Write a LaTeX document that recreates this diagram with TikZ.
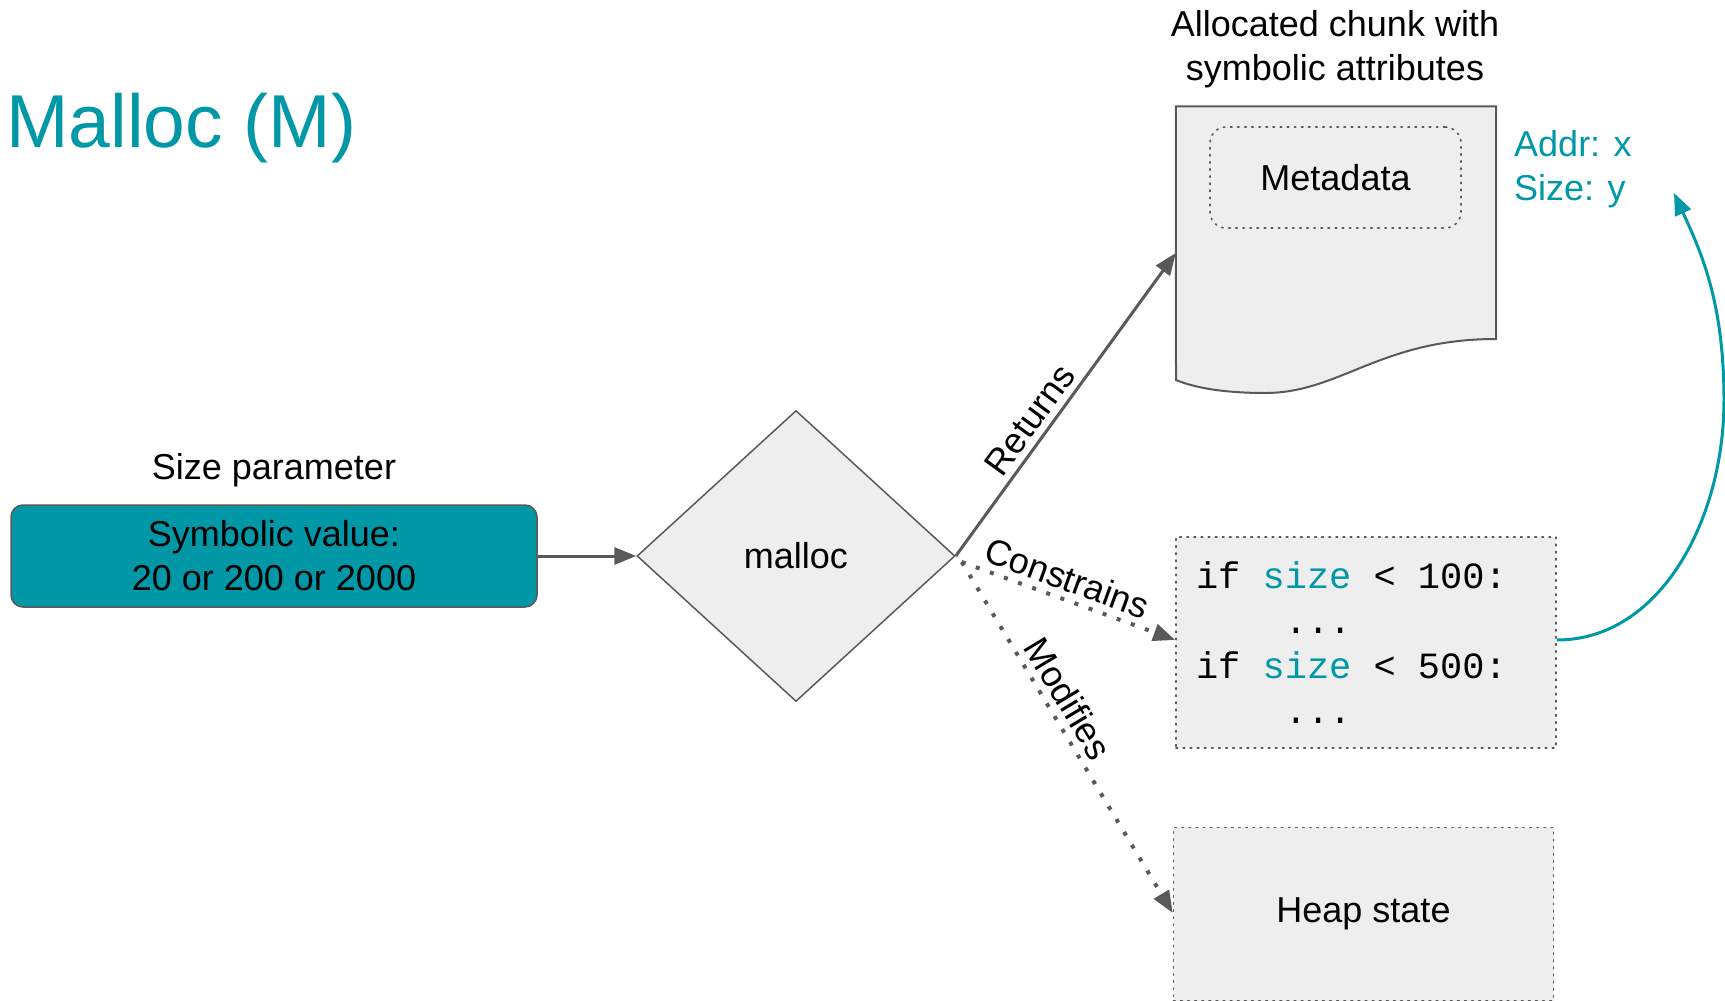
\documentclass[tikz,border=0pt]{standalone}
\usepackage{fontspec}
\setmainfont{Liberation Sans}
\setmonofont{Liberation Mono}
\usetikzlibrary{shapes.geometric,arrows.meta}

\definecolor{tealc}{HTML}{0097A7}
\definecolor{boxfill}{HTML}{EEEEEE}
\definecolor{edgegray}{HTML}{595959}

% one monospace cell of blank space
\newcommand{\csp}{\hspace*{0.6em}}

\tikzset{
  txt/.style={font=\fontsize{36}{44}\selectfont, align=center, inner sep=0pt},
  graybox/.style={fill=boxfill, draw=edgegray, line width=1.6pt,
    dash pattern=on 1.6pt off 5.5pt, line cap=round},
  conn/.style={draw=edgegray, line width=3pt,
    -{Triangle[length=22pt,width=17pt]}},
  dotconn/.style={conn, dash pattern=on 4pt off 11pt, line cap=butt, line width=4pt},
  elabel/.style={font=\fontsize{36}{44}\selectfont, sloped, above, inner sep=6pt},
}

\begin{document}
\begin{tikzpicture}[x=1pt, y=-1pt]
\useasboundingbox (0,0) rectangle (1725,1001);

% title
\node[font=\fontsize{75}{80}\selectfont, text=tealc, anchor=base west, inner sep=0pt]
  (title) at (6,147) {Malloc (M)};

% size parameter
\node[txt] (sizelbl) at (274,470) {Size parameter};
\node[txt, fill=tealc, draw=edgegray, line width=1.5pt, rounded corners=12pt,
      minimum width=526pt, minimum height=102pt] (param) at (274,556)
  {Symbolic value:\\20 or 200 or 2000};

% malloc decision
\node[diamond, aspect=1.09, fill=boxfill, draw=edgegray, line width=1.5pt,
      minimum width=318pt, minimum height=291pt, inner sep=0pt,
      font=\fontsize{36}{44}\selectfont] (malloc) at (796,556) {malloc};

% allocated chunk (document shape)
\node[txt] (chunklbl) at (1335,49) {Allocated chunk with\\symbolic attributes};
\node[minimum width=320pt, minimum height=287pt, inner sep=0pt] (chunk) at (1336,250) {};
\draw[fill=boxfill, draw=edgegray, line width=2pt]
  (chunk.north west) -- (chunk.north east) -- (1496,339)
  .. controls (1380,339) and (1340,393) .. (1265,393)
  .. controls (1225,393) and (1195,388) .. (1176,380) -- cycle;
\node[graybox, rounded corners=16pt, minimum width=251pt, minimum height=101pt,
      font=\fontsize{36}{44}\selectfont] (meta) at (1335.5,177.5) {Metadata};

% attributes
\node[font=\fontsize{36}{44}\selectfont, text=tealc, align=left, anchor=west,
      inner sep=0pt] (attrs) at (1514,169) {Addr: x\\Size: y};

% constraints
\node[graybox, minimum width=380pt, minimum height=211pt, text width=340pt,
      inner xsep=20pt, align=left, font=\fontsize{37}{45}\ttfamily] (cons) at (1366,642.5)
  {if\csp\textcolor{tealc}{size}\csp<\csp100:\\
   \csp\csp\csp\csp...\\
   if\csp\textcolor{tealc}{size}\csp<\csp500:\\
   \csp\csp\csp\csp...};

% heap state
\node[graybox, minimum width=380pt, minimum height=173pt,
      font=\fontsize{36}{44}\selectfont] (heap) at (1363.5,914) {Heap state};

% connectors
\draw[conn] (param.east) -- (malloc.west);
\draw[conn] (malloc.east) -- node[elabel, pos=0.41] {Returns} (chunk.west |- 0,253);
\coordinate (cstart) at ([shift={(6pt,-6pt)}]malloc.east);
\draw[dotconn] (cstart) -- node[elabel, pos=0.46] {Constrains} (cons.west |- 0,640);
\draw[dotconn] (cstart) -- node[elabel, pos=0.42] {Modifies} (heap.west |- 0,913);

% feedback into the attributes
\coordinate (ftip) at (1674,193);
\draw[draw=tealc, line width=3pt, -{Triangle[length=22pt,width=17pt]}]
  (cons.east |- 0,640) .. controls (1660,640) and (1724,520) .. (1724,400)
  .. controls (1724,300) and (1700,250) .. (ftip);
\end{tikzpicture}
\end{document}
